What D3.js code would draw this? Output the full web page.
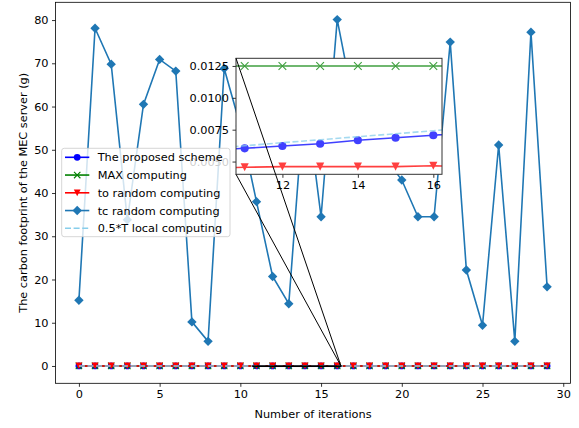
<!DOCTYPE html>
<html><head><meta charset="utf-8">
<script src="https://cdn.jsdelivr.net/npm/d3@7"></script>
<style>body{margin:0;background:#fff}svg{display:block}text{font-family:"DejaVu Sans",sans-serif;fill:#000}</style>
</head><body><svg id="c" width="579" height="428"></svg>
<script>
const iterations = d3.range(0, 30);
const proposed = [0.0039,0.0041,0.0043,0.0045,0.0047,0.0049,0.0051,0.0053,0.0055,0.0057,0.0059,0.00604,0.00622,0.0064,0.00667,0.00687,0.00706,0.0073,0.0075,0.0077,0.0079,0.0081,0.0083,0.0085,0.0087,0.0089,0.0091,0.0093,0.0095,0.0097];
const maxComputing = [0.0125,0.0125,0.0125,0.0125,0.0125,0.0125,0.0125,0.0125,0.0125,0.0125,0.0125,0.0125,0.0125,0.0125,0.0125,0.0125,0.0125,0.0125,0.0125,0.0125,0.0125,0.0125,0.0125,0.0125,0.0125,0.0125,0.0125,0.0125,0.0125,0.0125];
const toRandom = [0.0045,0.0046,0.0045,0.0046,0.0045,0.0046,0.0046,0.0045,0.0046,0.0046,0.0045,0.00455,0.0046,0.0046,0.0046,0.0046,0.00467,0.0046,0.0046,0.0045,0.0046,0.0046,0.0046,0.0045,0.0046,0.0046,0.0046,0.0045,0.0046,0.0046];
const tcRandom = [15.2,78.1,69.8,33.8,60.5,70.9,68.2,10.2,5.7,68.8,55.5,38.0,20.7,14.4,64.0,34.5,80.1,61.0,55.0,48.0,43.0,34.5,34.5,74.9,22.2,9.4,51.1,5.7,77.2,18.3];
const localHalfT = [0.0036,0.0038,0.0041,0.0043,0.0046,0.0048,0.0050,0.0053,0.0055,0.0058,0.0060,0.00624,0.00648,0.00671,0.00695,0.00718,0.00742,0.00766,0.0079,0.0081,0.0083,0.0086,0.0088,0.0090,0.0093,0.0095,0.0097,0.0100,0.0102,0.0104];
const xTicks = [0,5,10,15,20,25,30];
const yTicks = [0,10,20,30,40,50,60,70,80];
const insetXTicks = [12,14,16];
const insetYTicks = [0.0050,0.0075,0.0100,0.0125];
const insetXRange = [10.77, 16.23];
const insetYRange = [0.0040, 0.0131];
const legendLabels = ["The proposed scheme","MAX computing","to random computing","tc random computing","0.5*T local computing"];

const FS = 11.3;
const svg = d3.select("#c");
const L=55.5,R=570.5,T=2.3,B=383.3;
const xMin=0, xMax=29, yMax=d3.max(tcRandom), yMin=0;
const xPad=(xMax-xMin)*0.05, yPad=(yMax-yMin)*0.05;
const x = d3.scaleLinear().domain([xMin-xPad,xMax+xPad]).range([L,R]);
const y = d3.scaleLinear().domain([yMin-yPad,yMax+yPad]).range([B,T]);

const series = [
  {name:legendLabels[0], vals:proposed, color:"blue", marker:"circle", w:1.6},
  {name:legendLabels[1], vals:maxComputing, color:"green", marker:"x", w:1.6},
  {name:legendLabels[2], vals:toRandom, color:"red", marker:"tri", w:1.6},
  {name:legendLabels[3], vals:tcRandom, color:"#1f77b4", marker:"diamond", w:1.6},
  {name:legendLabels[4], vals:localHalfT, color:"#87ceeb", marker:null, w:1.6, dash:"6,2.6"}
];

function drawMarker(g, type, cx, cy, color, s){
  if(type==="circle") g.append("circle").attr("cx",cx).attr("cy",cy).attr("r",3.4*s).attr("fill",color);
  else if(type==="tri") g.append("path").attr("d",`M${cx-3.4*s},${cy-3.4*s}L${cx+3.4*s},${cy-3.4*s}L${cx},${cy+3.4*s}Z`).attr("fill",color);
  else if(type==="diamond") g.append("path").attr("d",`M${cx},${cy-4.7*s}L${cx+4.7*s},${cy}L${cx},${cy+4.7*s}L${cx-4.7*s},${cy}Z`).attr("fill",color);
  else if(type==="x") g.append("path").attr("d",`M${cx-3.2*s},${cy-3.2*s}L${cx+3.2*s},${cy+3.2*s}M${cx-3.2*s},${cy+3.2*s}L${cx+3.2*s},${cy-3.2*s}`).attr("stroke",color).attr("stroke-width",1.1).attr("fill","none");
}

function drawSeries(g, xs, ys, s, opacity){
  series.forEach(se=>{
    const gg = g.append("g").attr("opacity",opacity);
    const line = d3.line().x((d,i)=>xs(iterations[i])).y(d=>ys(d));
    gg.append("path").attr("d",line(se.vals)).attr("fill","none").attr("stroke",se.color)
      .attr("stroke-width",se.w).attr("stroke-dasharray",se.dash||null);
    if(se.marker) se.vals.forEach((v,i)=>drawMarker(gg,se.marker,xs(iterations[i]),ys(v),se.color,s));
  });
}

// main plot
const main = svg.append("g");
main.append("defs").append("clipPath").attr("id","mclip").append("rect").attr("x",L).attr("y",T).attr("width",R-L).attr("height",B-T);
drawSeries(main.append("g").attr("clip-path","url(#mclip)"), x, y, 1, 1);

// axes
const xa = svg.append("g").attr("transform",`translate(0,${B})`).call(d3.axisBottom(x).tickValues(xTicks).tickSize(3.5).tickPadding(3.5).tickFormat(d3.format("d")));
const ya = svg.append("g").attr("transform",`translate(${L},0)`).call(d3.axisLeft(y).tickValues(yTicks).tickSize(3.5).tickPadding(3.5).tickFormat(d3.format("d")));
[xa,ya].forEach(a=>{a.select(".domain").remove();a.selectAll("text").attr("font-size",FS).attr("font-family","DejaVu Sans").attr("fill","#000");a.selectAll("line").attr("stroke","#000").attr("stroke-width",0.8);});
svg.append("rect").attr("x",L).attr("y",T).attr("width",R-L).attr("height",B-T).attr("fill","none").attr("stroke","#000").attr("stroke-width",0.8);
svg.append("text").attr("x",(L+R)/2).attr("y",418).attr("text-anchor","middle").attr("font-size",FS).text("Number of iterations");
svg.append("text").attr("transform",`translate(27,${(T+B)/2}) rotate(-90)`).attr("text-anchor","middle").attr("font-size",FS).text("The carbon footprint of the MEC server (g)");

// zoom indicator rect in main axes
svg.append("rect").attr("x",x(insetXRange[0])).attr("y",y(insetYRange[1])).attr("width",x(insetXRange[1])-x(insetXRange[0])).attr("height",Math.max(0.5,y(insetYRange[0])-y(insetYRange[1]))).attr("fill","none").attr("stroke","#000").attr("stroke-width",1.2);

// inset
const IL=236, IR=442, IT=58.3, IB=174.3;
const xi = d3.scaleLinear().domain(insetXRange).range([IL,IR]);
const yi = d3.scaleLinear().domain(insetYRange).range([IB,IT]);
const inset = svg.append("g");
inset.append("rect").attr("x",IL).attr("y",IT).attr("width",IR-IL).attr("height",IB-IT).attr("fill","#fff");
inset.append("defs").append("clipPath").attr("id","iclip").append("rect").attr("x",IL).attr("y",IT).attr("width",IR-IL).attr("height",IB-IT);
drawSeries(inset.append("g").attr("clip-path","url(#iclip)"), xi, yi, 1.2, 0.75);
const xia = inset.append("g").attr("transform",`translate(0,${IB})`).call(d3.axisBottom(xi).tickValues(insetXTicks).tickSize(3.5).tickPadding(3.5).tickFormat(d3.format("d")));
const yia = inset.append("g").attr("transform",`translate(${IL},0)`).call(d3.axisLeft(yi).tickValues(insetYTicks).tickSize(3.5).tickPadding(3.5).tickFormat(d3.format(".4f")));
[xia,yia].forEach(a=>{a.select(".domain").remove();a.selectAll("text").attr("font-size",FS).attr("font-family","DejaVu Sans").attr("fill","#000");a.selectAll("line").attr("stroke","#000").attr("stroke-width",0.8);});
inset.append("rect").attr("x",IL).attr("y",IT).attr("width",IR-IL).attr("height",IB-IT).attr("fill","none").attr("stroke","#333").attr("stroke-width",1);

// connector lines
const cx = x(insetXRange[1]), cy = y(insetYRange[0]);
svg.append("line").attr("x1",IL).attr("y1",IT).attr("x2",cx).attr("y2",cy).attr("stroke","#000").attr("stroke-width",1);
svg.append("line").attr("x1",IL).attr("y1",IB).attr("x2",cx).attr("y2",cy).attr("stroke","#000").attr("stroke-width",1);

// legend (drawn last, semi-transparent like matplotlib)
const lg = svg.append("g");
lg.append("rect").attr("x",61.7).attr("y",148.3).attr("width",168.3).attr("height",88.4).attr("rx",2.5).attr("fill","#fff").attr("fill-opacity",0.8).attr("stroke","#ccc").attr("stroke-width",0.8);
series.forEach((se,i)=>{
  const ry = 157.3 + i*17.75;
  lg.append("line").attr("x1",65).attr("x2",89.3).attr("y1",ry).attr("y2",ry).attr("stroke",se.color).attr("stroke-width",se.w).attr("stroke-dasharray",se.dash||null);
  if(se.marker) drawMarker(lg,se.marker,77.2,ry,se.color,1);
  lg.append("text").attr("x",97.7).attr("y",ry).attr("dy","0.35em").attr("font-size",FS).text(se.name);
});
</script></body></html>
